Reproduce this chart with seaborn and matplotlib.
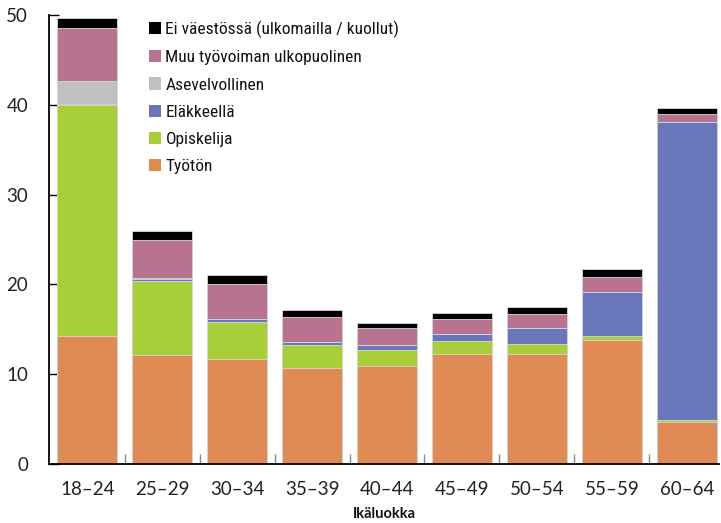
import matplotlib
matplotlib.use("Agg")
import matplotlib.pyplot as plt
from matplotlib.patches import Patch
from matplotlib.ticker import FixedLocator
from matplotlib import font_manager
import seaborn as sns
import pandas as pd
import numpy as np

categories = ["18–24", "25–29", "30–34", "35–39", "40–44", "45–49", "50–54", "55–59", "60–64"]
tyoton = [14.2, 12.1, 11.7, 10.7, 10.9, 12.2, 12.3, 13.85, 4.7]
opiskelija = [25.8, 8.3, 4.1, 2.5, 1.8, 1.5, 1.1, 0.4, 0.2]
elakkeella = [0.1, 0.2, 0.3, 0.35, 0.5, 0.8, 1.7, 4.95, 33.2]
asevelvollinen = [2.6, 0.1, 0.0, 0.0, 0.0, 0.0, 0.0, 0.0, 0.0]
muu = [5.9, 4.2, 3.9, 2.8, 1.9, 1.7, 1.6, 1.65, 0.9]
ei_vaestossa = [1.1, 1.1, 1.1, 0.8, 0.6, 0.6, 0.75, 0.85, 0.6]

series_names = ["Työtön", "Opiskelija", "Eläkkeellä", "Asevelvollinen",
                "Muu työvoiman ulkopuolinen", "Ei väestössä (ulkomailla / kuollut)"]
series_values = [tyoton, opiskelija, elakkeella, asevelvollinen, muu, ei_vaestossa]
colors = ["#E08A54", "#A8CE3A", "#6A76BA", "#C0C0C0", "#B87391", "#000000"]

available = {f.name for f in font_manager.fontManager.ttflist}
def pick(cands):
    for c in cands:
        if c in available:
            return c
    return "DejaVu Sans"
legend_font = pick(["Liberation Sans Narrow", "Roboto Condensed", "DejaVu Sans Condensed", "Lato"])
tick_font = pick(["Lato", "Open Sans", "Noto Sans"])

sns.set_theme(style="white")
plt.rcParams["font.family"] = [legend_font, "DejaVu Sans"]

fig = plt.figure(figsize=(7.21, 5.23), dpi=100)
ax = fig.add_axes([49 / 721, 59 / 523, (719 - 49) / 721, (464 - 15) / 523])

cum = np.cumsum(np.array(series_values), axis=0)
# draw from the top series downward so lower segments overlay
for i in range(len(series_names) - 1, -1, -1):
    df = pd.DataFrame({"cat": categories, "val": cum[i]})
    sns.barplot(data=df, x="cat", y="val", color=colors[i], width=0.8,
                edgecolor="#d8d8d8", linewidth=0.6, saturation=1, ax=ax)

ax.set_ylim(0, 50)
ax.set_xlim(-0.51, 8.43)
ax.set_yticks([0, 10, 20, 30, 40, 50])
ax.tick_params(axis="y", direction="in", length=7, width=1, colors="black",
               left=True, pad=15)
ax.tick_params(axis="x", which="major", length=0, pad=12.5)
ax.xaxis.set_minor_locator(FixedLocator([k + 0.5 for k in range(8)]))
ax.tick_params(axis="x", which="minor", direction="in", length=7, width=1,
               color="#888888", bottom=True)
for lab in ax.get_yticklabels() + ax.get_xticklabels():
    lab.set_color("#222222")
    lab.set_family([tick_font, "DejaVu Sans"])
    lab.set_fontsize(13.5)

ax.set_ylabel("")
ax.set_xlabel("")
fig.text(384 / 721, 1 - 507 / 523, "Ikäluokka", ha="center", va="top",
         fontsize=10.5, fontweight="bold", family=[tick_font, "DejaVu Sans"],
         color="#111111")

for s in ["top", "right"]:
    ax.spines[s].set_visible(False)
for s in ["left", "bottom"]:
    ax.spines[s].set_color("black")
    ax.spines[s].set_linewidth(1.3)

handles = [Patch(facecolor=colors[i], edgecolor="none", label=series_names[i])
           for i in range(len(series_names) - 1, -1, -1)]
leg = ax.legend(handles=handles, loc="upper left",
                bbox_to_anchor=(149 / 721, 1 - 21 / 523), bbox_transform=fig.transFigure,
                frameon=False, fontsize=12.5, handlelength=0.7, handleheight=0.7,
                handletextpad=0.25, labelspacing=0.69, borderaxespad=0, borderpad=0)
for t in leg.get_texts():
    t.set_color("#111111")

fig.savefig("out.png", dpi=100)
